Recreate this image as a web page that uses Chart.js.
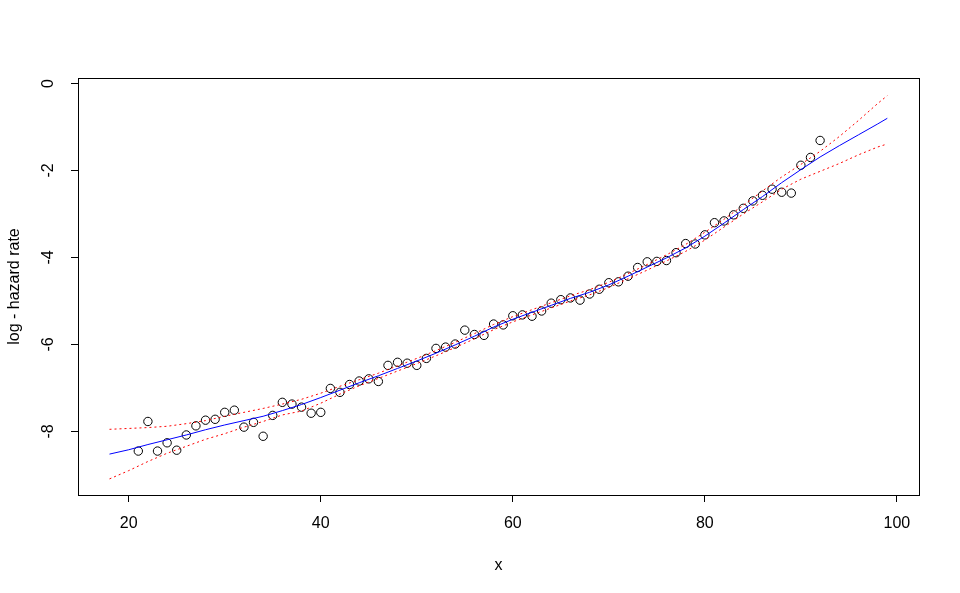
<!DOCTYPE html>
<html>
<head>
<meta charset="utf-8">
<script src="https://cdn.jsdelivr.net/npm/chart.js@4/dist/chart.umd.min.js"></script>
<style>
html,body{margin:0;padding:0;background:#fff;}
#wrap{width:960px;height:593px;}
</style>
</head>
<body>
<div id="wrap"><canvas id="c" width="960" height="593"></canvas></div>
<script>
// Observed points
const obsAges = [21,22,23,24,25,26,27,28,29,30,31,32,33,34,35,36,37,38,39,40,41,42,43,44,45,46,47,48,49,50,51,52,53,54,55,56,57,58,59,60,61,62,63,64,65,66,67,68,69,70,71,72,73,74,75,76,77,78,79,80,81,82,83,84,85,86,87,88,89,90,91,92];
const obsLogHazard = [-8.45,-7.77,-8.45,-8.26,-8.43,-8.08,-7.87,-7.74,-7.72,-7.56,-7.51,-7.90,-7.79,-8.11,-7.63,-7.33,-7.37,-7.44,-7.58,-7.56,-7.01,-7.10,-6.92,-6.84,-6.79,-6.85,-6.48,-6.41,-6.43,-6.48,-6.32,-6.09,-6.06,-5.99,-5.67,-5.77,-5.79,-5.53,-5.55,-5.34,-5.32,-5.35,-5.23,-5.05,-4.97,-4.93,-4.98,-4.84,-4.73,-4.58,-4.56,-4.43,-4.23,-4.10,-4.09,-4.07,-3.89,-3.68,-3.69,-3.48,-3.20,-3.16,-3.02,-2.87,-2.70,-2.57,-2.43,-2.50,-2.52,-1.88,-1.70,-1.31];

// Fitted curve and confidence band
const fitAges = [18,20,22,24,26,28,30,32,34,36,38,40,42,44,46,48,50,52,54,56,58,60,62,64,66,68,70,72,74,76,78,80,82,84,86,88,90,92,94,96,98,99];
const fitValues = [-8.52,-8.42,-8.30,-8.19,-8.08,-7.96,-7.85,-7.75,-7.65,-7.52,-7.38,-7.22,-7.05,-6.88,-6.72,-6.55,-6.38,-6.20,-6.01,-5.81,-5.60,-5.42,-5.26,-5.10,-4.94,-4.80,-4.63,-4.43,-4.22,-4.01,-3.78,-3.51,-3.21,-2.90,-2.60,-2.28,-1.98,-1.69,-1.43,-1.18,-0.93,-0.80];
const upperValues = [-7.95,-7.93,-7.91,-7.88,-7.82,-7.75,-7.65,-7.56,-7.47,-7.37,-7.26,-7.12,-6.96,-6.81,-6.66,-6.49,-6.32,-6.14,-5.95,-5.75,-5.54,-5.36,-5.20,-5.04,-4.88,-4.74,-4.57,-4.37,-4.16,-3.94,-3.70,-3.42,-3.12,-2.80,-2.47,-2.15,-1.86,-1.56,-1.22,-0.85,-0.46,-0.28];
const lowerValues = [-9.09,-8.90,-8.69,-8.50,-8.34,-8.18,-8.05,-7.90,-7.77,-7.62,-7.53,-7.35,-7.14,-6.95,-6.78,-6.61,-6.44,-6.26,-6.07,-5.87,-5.66,-5.48,-5.32,-5.16,-5.00,-4.86,-4.69,-4.49,-4.29,-4.08,-3.86,-3.60,-3.30,-3.00,-2.72,-2.43,-2.20,-2.02,-1.84,-1.64,-1.46,-1.39];

const xTicks = [20,40,60,80,100];
const yTicks = [0,-2,-4,-6,-8];
const xTitle = 'x';
const yTitle = 'log - hazard rate';

const toXY = (xs, ys) => xs.map((x, i) => ({x: x, y: ys[i]}));
const FONT = 'Liberation Sans, Arial, sans-serif';

const boxPlugin = {
  id: 'box',
  afterDraw(chart) {
    const {ctx, chartArea: a} = chart;
    ctx.save();
    ctx.strokeStyle = '#000';
    ctx.lineWidth = 1;
    ctx.strokeRect(Math.round(a.left) + 0.5, Math.round(a.top) + 0.5, Math.round(a.right - a.left), Math.round(a.bottom - a.top));
    // rotated y tick labels
    const ys = chart.scales.y;
    ctx.fillStyle = '#000';
    ctx.font = '16px ' + FONT;
    ctx.textAlign = 'center';
    ctx.textBaseline = 'middle';
    yTicks.forEach(v => {
      const py = ys.getPixelForValue(v);
      ctx.save();
      ctx.translate(49, py);
      ctx.rotate(-Math.PI / 2);
      ctx.fillText(String(v), 0, 0);
      ctx.restore();
    });
    ctx.restore();
  }
};

new Chart(document.getElementById('c'), {
  type: 'scatter',
  data: {
    datasets: [
      {data: toXY(fitAges, upperValues), showLine: true, borderColor: '#ff0000', borderWidth: 1, borderDash: [2, 3], pointRadius: 0, fill: false, tension: 0, order: 1},
      {data: toXY(fitAges, lowerValues), showLine: true, borderColor: '#ff0000', borderWidth: 1, borderDash: [2, 3], pointRadius: 0, fill: false, tension: 0, order: 1},
      {data: toXY(fitAges, fitValues), showLine: true, borderColor: '#0000ff', borderWidth: 1, pointRadius: 0, fill: false, tension: 0, order: 1},
      {data: toXY(obsAges, obsLogHazard), showLine: false, pointStyle: 'circle', pointRadius: 4.2, borderColor: '#000', backgroundColor: 'rgba(0,0,0,0)', borderWidth: 1, order: 2}
    ]
  },
  options: {
    responsive: false,
    animation: false,
    devicePixelRatio: 1,
    layout: {padding: {left: 0, top: 78, right: 41, bottom: 0}},
    plugins: {legend: {display: false}, tooltip: {enabled: false}},
    scales: {
      x: {
        type: 'linear', min: 14.72, max: 102.3,
        afterFit(s) { s.height = 98; },
        afterBuildTicks(s) { s.ticks = xTicks.map(v => ({value: v})); },
        grid: {display: true, drawOnChartArea: false, drawTicks: true, tickLength: 7, color: '#000', tickColor: '#000'},
        border: {display: false},
        ticks: {color: '#000', font: {family: FONT, size: 16}, padding: 12, maxRotation: 0, autoSkip: false},
        title: {display: true, text: xTitle, color: '#000', font: {family: FONT, size: 16}, padding: {top: 0, bottom: 18}}
      },
      y: {
        type: 'linear', min: -9.46, max: 0.126,
        afterFit(s) { s.width = 78; },
        afterBuildTicks(s) { s.ticks = yTicks.map(v => ({value: v})); },
        grid: {display: true, drawOnChartArea: false, drawTicks: true, tickLength: 7, color: '#000', tickColor: '#000'},
        border: {display: false},
        ticks: {display: false},
        title: {display: true, text: yTitle, color: '#000', font: {family: FONT, size: 16}, padding: {top: 5, bottom: 0}}
      }
    }
  },
  plugins: [boxPlugin]
});
</script>
</body>
</html>
